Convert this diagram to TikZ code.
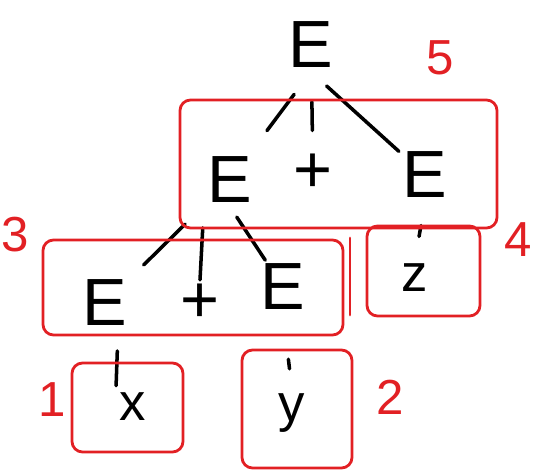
\documentclass[tikz,border=0pt]{standalone}
\usepackage{fontspec}
\setmainfont{Liberation Sans}
\usepackage{tikz}
\usetikzlibrary{arrows.meta,calc,positioning}
\definecolor{pen}{RGB}{226,32,36}

\begin{document}
\begin{tikzpicture}[every node/.style={font=\fontsize{38}{38}\selectfont,inner sep=2pt},
    sym/.style={font=\fontsize{30}{30}\selectfont},
    num/.style={text=pen,font=\fontsize{28}{28}\selectfont},
    edge/.style={line width=2pt,line cap=round},
    box/.style={draw=pen,line width=1.6pt,rounded corners=6pt}]
  \useasboundingbox (0,0) rectangle (10.74,-9.44);
  % tree
  \node (top) at (6.22,-0.9) {E};
  \node (el) at (4.6,-3.6) {E};
  \node (pl) at (6.26,-3.46) {+};
  \node (er) at (8.5,-3.5) {E};
  \node (ell) at (2.1,-6.06) {E};
  \node (pll) at (4.0,-6.06) {+};
  \node (elr) at (5.66,-5.74) {E};
  \node[sym] (z) at (8.3,-5.56) {z};
  \node[sym] (x) at (2.66,-8.14) {x};
  \node[sym] (y) at (5.84,-8.26) {y};
  \draw[edge,shorten <=16pt,shorten >=16pt] (top.south) -- (el);
  \draw[edge,shorten <=17pt,shorten >=11pt] (top) -- (pl);
  \draw[edge,shorten <=12pt] (top.south) -- (er);
  \draw[edge,shorten <=15pt,shorten >=10pt] (el) -- (ell);
  \draw[edge,shorten <=12pt] (el.south west) -- (pll.north);
  \draw[edge,shorten <=7pt] (el.south) -- (elr);
  \draw[edge,shorten <=20pt,shorten >=20pt] (er.south) -- (z.north);
  \draw[edge,shorten <=12pt,shorten >=2pt] ($(ell.south)!0.5!(ell.south east)$) -- (x.north west);
  \draw[edge,shorten <=26pt,shorten >=12pt] (elr.south) -- (y.north);
  % subtrees
  \draw[box] (3.6,-2.0) rectangle (9.94,-4.56);
  \draw[box] (0.86,-4.8) rectangle (6.86,-6.7);
  \draw[pen,line width=1.6pt,line cap=round] (7.0,-4.76) -- (7.0,-6.3);
  \draw[box] (7.34,-4.52) rectangle (9.6,-6.32);
  \draw[box] (1.44,-7.26) rectangle (3.66,-9.04);
  \draw[box] (4.84,-7.0) rectangle (7.04,-9.36);
  \node[num] (n5) at (8.8,-1.16) {5};
  \node[num] (n3) at (0.3,-4.7) {3};
  \node[num] (n4) at (10.36,-4.8) {4};
  \node[num] (n1) at (1.04,-8.0) {1};
  \node[num] (n2) at (7.8,-7.94) {2};
\end{tikzpicture}
\end{document}
